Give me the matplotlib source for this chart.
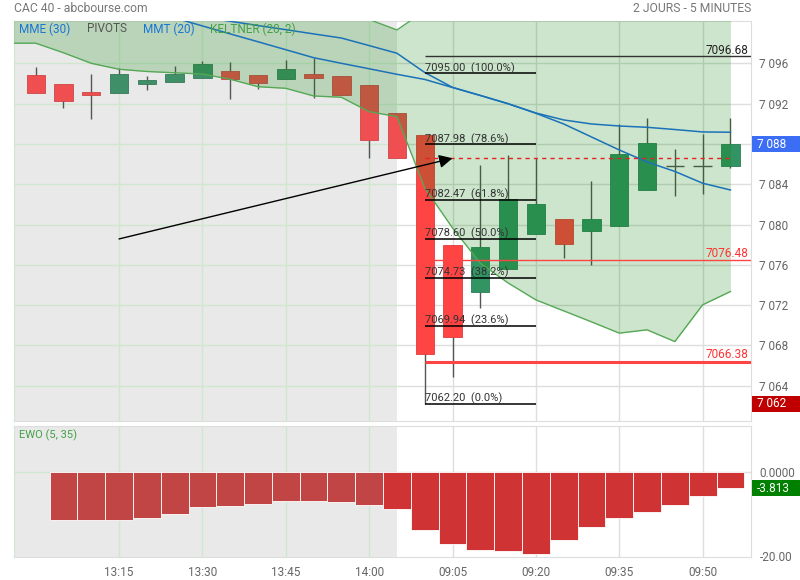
import numpy as np
import matplotlib.pyplot as plt
import matplotlib.transforms as mtransforms
from matplotlib.patches import Rectangle

plt.rcParams['font.family'] = ['Roboto', 'DejaVu Sans']

# 5-minute candles: previous day 13:00-14:05, then today 09:00-09:55
times = ['13:00', '13:05', '13:10', '13:15', '13:20', '13:25', '13:30', '13:35',
         '13:40', '13:45', '13:50', '13:55', '14:00', '14:05',
         '09:00', '09:05', '09:10', '09:15', '09:20', '09:25', '09:30', '09:35',
         '09:40', '09:45', '09:50', '09:55']
opens = [7094.84, 7093.95, 7093.16, 7093.03, 7093.92, 7094.12, 7094.52, 7095.24,
         7094.84, 7094.42, 7094.94, 7094.74, 7093.85, 7091.10,
         7088.89, 7077.98, 7073.35, 7075.57, 7079.04, 7080.56, 7079.34, 7079.89,
         7083.40, 7085.79, 7085.79, 7085.79]
highs = [7095.67, 7093.95, 7094.94, 7095.51, 7094.77, 7095.74, 7096.23, 7096.16,
         7094.84, 7096.33, 7096.50, 7094.74, 7093.85, 7091.10,
         7088.89, 7077.98, 7085.91, 7086.91, 7086.64, 7080.56, 7084.33, 7089.95,
         7090.61, 7087.50, 7088.99, 7090.61]
lows = [7093.03, 7091.60, 7090.48, 7093.03, 7093.36, 7094.12, 7094.52, 7092.43,
        7093.42, 7094.42, 7092.53, 7092.83, 7086.64, 7086.58,
        7062.20, 7064.85, 7071.70, 7075.57, 7079.04, 7076.66, 7075.99, 7079.89,
        7083.40, 7082.87, 7083.07, 7085.65]
closes = [7093.03, 7092.29, 7092.89, 7094.94, 7094.35, 7094.94, 7095.93, 7094.42,
          7094.02, 7095.44, 7094.52, 7092.83, 7088.37, 7086.58,
          7067.16, 7068.88, 7077.78, 7082.51, 7082.05, 7078.05, 7080.56, 7087.01,
          7088.07, 7085.79, 7085.79, 7087.97]

# moving averages
mme30 = [7104.47, 7103.67, 7102.88, 7102.09, 7101.29, 7100.51, 7099.71, 7098.92,
         7098.14, 7097.35, 7096.56, 7096.00, 7095.46, 7094.91, 7094.40, 7093.60,
         7092.81, 7091.99, 7091.07, 7090.38, 7089.98, 7089.78, 7089.65, 7089.43,
         7089.19, 7089.16]
mmt20 = [7105.50, 7104.60, 7103.70, 7102.90, 7102.20, 7101.60, 7100.58, 7100.17,
         7099.75, 7099.34, 7098.92, 7098.51, 7097.76, 7097.00, 7095.09, 7093.61,
         7092.81, 7091.99, 7091.04, 7089.98, 7088.69, 7087.40, 7086.21, 7085.27,
         7084.10, 7083.43]

# keltner bands, starting one bar before the first candle
kel_start = -1
kel_low = [7098.00, 7098.00, 7097.05, 7096.00, 7095.41, 7095.19, 7095.06, 7094.94,
           7094.42, 7093.68, 7093.52, 7092.76, 7092.63, 7091.20, 7090.71, 7083.63,
           7079.66, 7076.16, 7074.20, 7072.52, 7071.43, 7070.34, 7069.22, 7069.55,
           7068.38, 7072.03, 7073.35]
kel_up = [7106.0, 7106.0, 7105.6, 7105.1, 7104.7, 7104.3, 7103.9, 7103.5,
          7103.0, 7102.5, 7102.0, 7101.5, 7101.0, 7100.35, 7099.31, 7101.2,
          7102.4, 7103.1, 7103.5, 7103.7, 7103.8, 7103.8, 7103.7, 7103.6,
          7103.5, 7103.3, 7103.2]

# fibonacci retracement
fib_levels = [7095.00, 7087.98, 7082.47, 7078.60, 7074.73, 7069.94, 7062.20]
fib_pcts = ['100.0%', '78.6%', '61.8%', '50.0%', '38.2%', '23.6%', '0.0%']
fib_from, fib_to = 14, 18

pivot_top = 7096.68
red_levels = [7076.48, 7066.38]
prev_close = 7086.58
trend_start = (3, 7078.57)
trend_end = (15, 7086.58)
last_price = 7087.97
day_low = 7062.20

# EWO (5, 35) histogram, bars 1..25
ewo = [-11.24, -11.24, -11.24, -10.77, -9.82, -8.16, -7.92, -7.45, -6.74, -6.74,
       -6.97, -7.69, -8.64, -13.61, -16.93, -18.36, -18.60, -19.31, -15.99, -12.90,
       -10.77, -9.35, -7.69, -5.55, -3.813]
ewo_start = 1

tick_idx = [3, 6, 9, 12, 15, 18, 21, 24]
split = 13  # day change
xlim = (-0.78, 25.74)

fig = plt.figure(figsize=(8, 5.8), dpi=100)
ax = fig.add_axes([14 / 800, 1 - 421 / 580, 737 / 800, 400 / 580])
ax2 = fig.add_axes([14 / 800, 1 - 557.3 / 580, 737 / 800, 131.6 / 580])

GRID_L = '#cfe6cf'
GRID_R = '#dedede'

for a in (ax, ax2):
    a.set_xlim(*xlim)
    a.add_patch(Rectangle((xlim[0], -1e5), split - xlim[0], 2e5, fc='#e9e9e9', ec='none', zorder=0))
    for t in tick_idx:
        a.axvline(t, color=GRID_L if t < split else GRID_R, lw=1, zorder=1)
    for s in a.spines.values():
        s.set_color('#dddddd')
    a.spines['left'].set_color(GRID_L)
    a.yaxis.tick_right()
    a.tick_params(axis='both', length=0, colors='#666666', labelsize=8.5)

# ---- price panel
ax.set_ylim(7060.5, 7100.2)
yt = np.arange(7064, 7097, 4)
ax.set_yticks(yt)
# the 7 088 label sits under the last-price box
ax.set_yticklabels(['' if v == 7088 else f'{v:,}'.replace(',', ' ') for v in yt])
ax.tick_params(axis='y', pad=6)
ax.set_xticks([])
for v in yt:
    ax.hlines(v, xlim[0], split, color=GRID_L, lw=1, zorder=1)
    ax.hlines(v, split, xlim[1], color=GRID_R, lw=1, zorder=1)

w = 0.33
for i in range(len(times)):
    o, h, l, c = opens[i], highs[i], lows[i], closes[i]
    left = i <= split
    if c >= o:
        fc, ec = ('#3f9068', '#357a58') if left else ('#329363', '#2b7f55')
    else:
        fc, ec = ('#ef4f51', '#cc4545') if left else ('#ff4444', '#e03b3b')
    ax.vlines(i, l, h, color='#555555', lw=1, zorder=2)
    if abs(c - o) < 0.05:
        ax.hlines(o, i - w, i + w, color='#555555', lw=1, zorder=2)
    else:
        ax.add_patch(Rectangle((i - w, min(o, c)), 2 * w, abs(c - o), fc=fc, ec=ec, lw=0.6, zorder=2.5))

kx = np.arange(kel_start, kel_start + len(kel_low))
ax.fill_between(kx, kel_low, kel_up, color='green', alpha=0.2, lw=0, zorder=3)
ax.plot(kx, kel_low, color='#55a855', lw=1, zorder=4)
ax.plot(kx, kel_up, color='#55a855', lw=1, zorder=4)

ix = np.arange(len(times))
ax.plot(ix, mme30, color='#1b72b8', lw=1.1, zorder=5)
ax.plot(ix, mmt20, color='#1b72b8', lw=1.1, zorder=5)

# fibonacci lines
for lv, pc in zip(fib_levels, fib_pcts):
    ax.hlines(lv, fib_from, fib_to, color='black', lw=1.1, zorder=6)
    ax.annotate(f'{lv:.2f}  ({pc})', (fib_from, lv), xytext=(0, 1.5), textcoords='offset points',
                ha='left', va='baseline', fontsize=8, color='#333333', zorder=7)

tr = mtransforms.blended_transform_factory(ax.transAxes, ax.transData)
ax.hlines(pivot_top, fib_from, xlim[1], color='#333333', lw=1, zorder=6)
ax.annotate(f'{pivot_top:.2f}', (0.996, pivot_top), xycoords=tr, xytext=(0, 2), textcoords='offset points',
            ha='right', va='baseline', fontsize=8.5, color='#222222', zorder=7)
for lv, lw in zip(red_levels, [1, 2.2]):
    ax.hlines(lv, fib_from, xlim[1], color='#ff4444', lw=lw, zorder=6)
    ax.annotate(f'{lv:.2f}', (0.996, lv), xycoords=tr, xytext=(0, 2.5), textcoords='offset points',
                ha='right', va='baseline', fontsize=8.5, color='#ff3333', zorder=7)
ax.hlines(prev_close, fib_from, len(times) - 1, color='#e82020', lw=1, linestyles=(0, (3, 3)), zorder=6)

ax.annotate('', xy=trend_end, xytext=trend_start,
            arrowprops=dict(arrowstyle='-|>', color='black', lw=1, mutation_scale=20,
                            shrinkA=0, shrinkB=0), zorder=7)

# value boxes on the right axis
def value_box(a, y, h, text, fc):
    t = mtransforms.blended_transform_factory(a.transAxes, a.transData)
    a.add_patch(Rectangle((1.0015, y - h / 2), 0.07, h, transform=t, fc=fc, ec='none', clip_on=False, zorder=8))
    a.text(1.008, y, text, transform=t, ha='left', va='center', color='white', fontsize=8.5, zorder=9)

value_box(ax, last_price, 1.6, f'{round(last_price):,}'.replace(',', ' '), '#3b6ef5')
value_box(ax, day_low, 1.6, f'{round(day_low):,}'.replace(',', ' '), '#c00000')

# ---- EWO panel
ax2.set_ylim(-20.2, 11.06)
ax2.set_yticks([0, -20])
ax2.set_yticklabels(['0.0000', '-20.00'])
ax2.tick_params(axis='y', pad=6)
ax2.hlines(0, xlim[0], split, color=GRID_L, lw=1, zorder=1)
ax2.hlines(0, split, xlim[1], color=GRID_R, lw=1, zorder=1)
ex = np.arange(ewo_start, ewo_start + len(ewo))
ax2.bar(ex, ewo, width=1.0, color=['#c14545' if x < split else '#cf3333' for x in ex],
        edgecolor='white', lw=0.6, zorder=2)
ax2.set_xticks(tick_idx)
ax2.set_xticklabels([times[t] for t in tick_idx])
ax2.tick_params(axis='x', pad=6)
value_box(ax2, ewo[-1], 3.8, f'{ewo[-1]:.3f}', '#008000')
ax2.text(5 / 737, 0.93, 'EWO (5, 35)', transform=ax2.transAxes, ha='left', va='center',
         fontsize=8, color='#43a047')

# header and legend
fig.text(14 / 800, 1 - 9 / 580, 'CAC 40 - abcbourse.com', ha='left', va='center', fontsize=8.7, color='#777777')
fig.text(751 / 800, 1 - 9 / 580, '2 JOURS - 5 MINUTES', ha='right', va='center', fontsize=8.7, color='#777777')
for x, s, col in [(19, 'MME (30)', '#1976d2'), (87, 'PIVOTS', '#555555'),
                  (143, 'MMT (20)', '#1976d2'), (210, 'KELTNER (20, 2)', '#43a047')]:
    fig.text(x / 800, 1 - 29 / 580, s, ha='left', va='center', fontsize=8.5, color=col)

fig.savefig('out.png', dpi=100)
